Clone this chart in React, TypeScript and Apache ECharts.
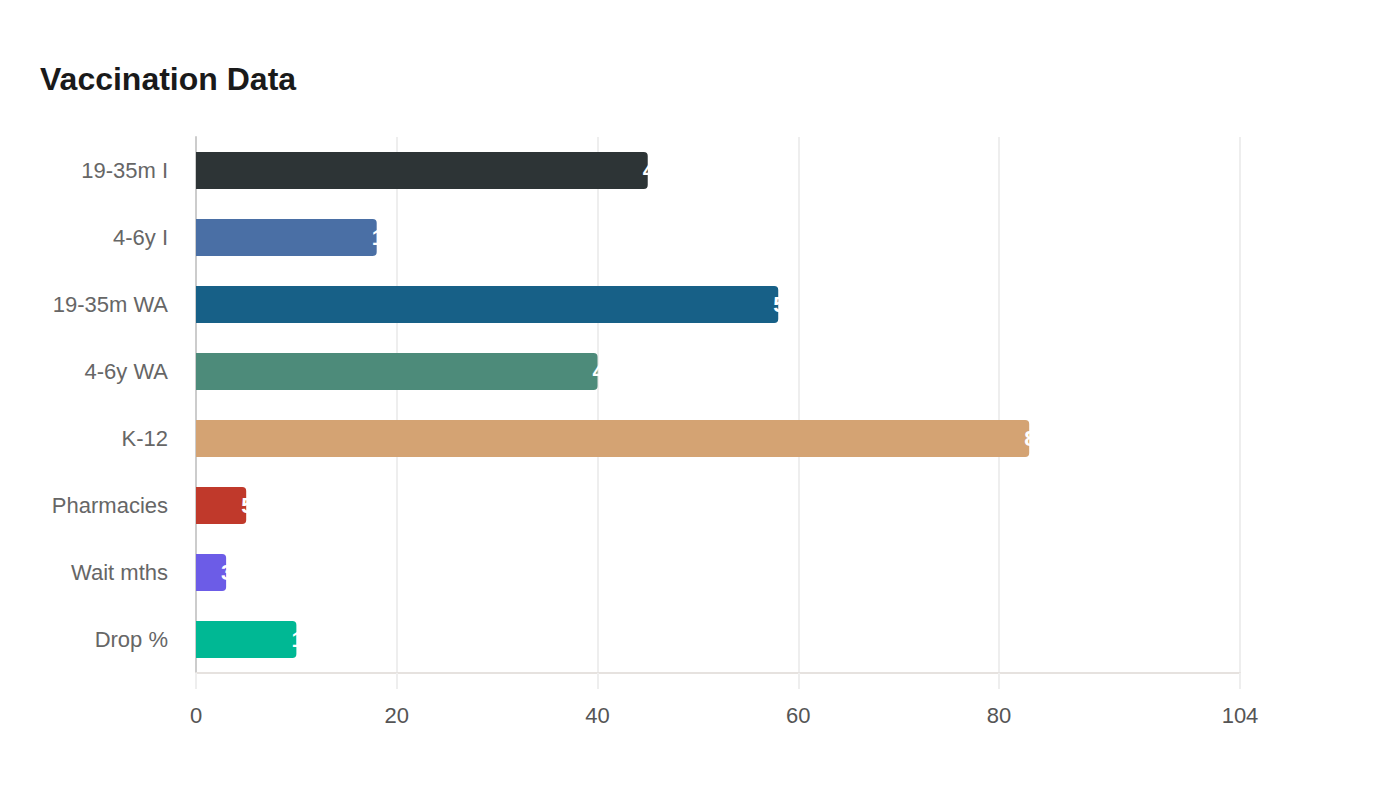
import { useEffect, useRef } from 'react';
import * as echarts from 'echarts';

const categories = ['19-35m I', '4-6y I', '19-35m WA', '4-6y WA', 'K-12', 'Pharmacies', 'Wait mths', 'Drop %'];
const values = [45, 18, 58, 40, 83, 5, 3, 10];
const colors = ['#2d3436', '#4a6fa5', '#176087', '#4d8b7a', '#d4a373', '#c0392b', '#6c5ce7', '#00b894'];
const xTicks = [0, 20, 40, 60, 80, 104];

const FONT = '"Liberation Sans", Arial, Helvetica, sans-serif';

export default function App() {
  const ref = useRef<HTMLDivElement>(null);

  useEffect(() => {
    const chart = echarts.init(ref.current!, undefined, { renderer: 'svg' });
    chart.setOption({
      animation: false,
      textStyle: { fontFamily: FONT },
      title: {
        text: 'Vaccination Data',
        left: 27,
        top: 50,
        textStyle: { fontSize: 32, fontWeight: 'bold', color: '#1a1a1a', fontFamily: FONT },
      },
      grid: { left: 188, right: 152, top: 129, bottom: 119, containLabel: false },
      xAxis: {
        type: 'value',
        min: 0,
        max: 104,
        axisLine: { show: true, lineStyle: { color: '#e6e2df', width: 2 } },
        axisTick: { show: true, length: 16, customValues: xTicks, lineStyle: { color: '#eeeeee', width: 2 } },
        axisLabel: { customValues: xTicks, margin: 31, fontSize: 22, color: '#555555', fontFamily: FONT },
        splitLine: { show: true, lineStyle: { color: '#eeeeee', width: 2 } },
      },
      yAxis: {
        type: 'category',
        data: categories,
        inverse: true,
        axisLine: { show: true, lineStyle: { color: '#cccccc', width: 2 } },
        axisTick: { show: false },
        axisLabel: { margin: 28, fontSize: 22, color: '#666666', fontFamily: FONT },
        splitLine: { show: false },
      },
      series: [
        {
          type: 'bar',
          data: values.map((v, i) => ({ value: v, itemStyle: { color: colors[i] } })),
          barWidth: 37,
          itemStyle: { borderRadius: [0, 4, 4, 0] },
          label: {
            show: true,
            position: 'right',
            distance: -5,
            color: '#ffffff',
            fontSize: 22,
            fontWeight: 'bold',
            fontFamily: FONT,
          },
        },
      ],
    });
    return () => chart.dispose();
  }, []);

  return <div ref={ref} style={{ width: 1384, height: 784 }} />;
}
